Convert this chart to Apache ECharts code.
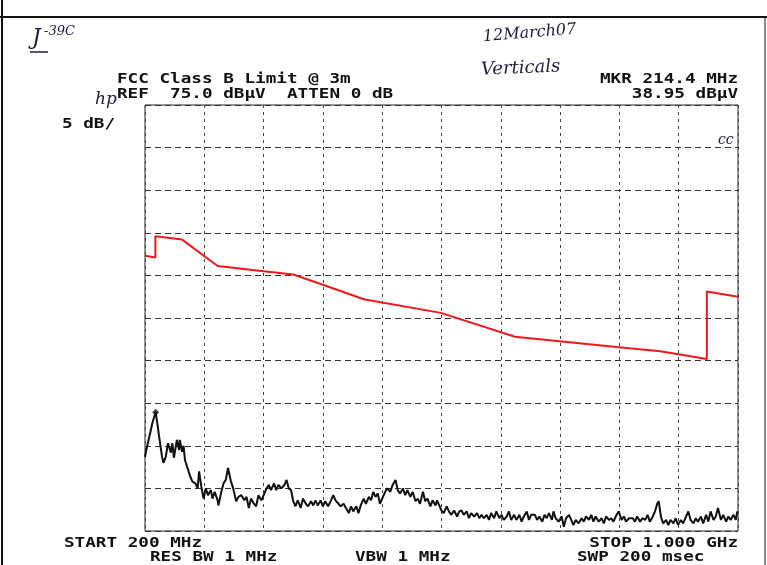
<!DOCTYPE html>
<html>
<head>
<meta charset="utf-8">
<script src="https://cdn.jsdelivr.net/npm/echarts@6/dist/echarts.min.js"></script>
<style>
  html, body { margin: 0; padding: 0; background: #fff; }
  #chart { width: 767px; height: 565px; }
</style>
</head>
<body>
<div id="chart"></div>
<script>
// sweep settings: 200 MHz .. 1 GHz, ref 75 dBuV, 5 dB/div
const spanMHz = [200, 1000]
const levelDb = [25, 75]

// FCC class B limit line (transducer-corrected), MHz / dBuV
const limitMHz = [200, 214, 214, 250, 298, 360, 400, 440, 495, 599, 699, 836, 895, 958, 958, 1000]
const limitDb = [57.3, 57.1, 59.6, 59.2, 56.1, 55.5, 55.1, 53.9, 52.2, 50.6, 47.8, 46.6, 46.1, 45.2, 53.1, 52.5]

const traceMHz = [
  200, 203, 207, 210, 214.4, 217, 219, 223, 225, 228, 231, 235, 237, 239, 243, 246, 247, 250, 252, 254,
  257, 261, 264, 268, 271, 273, 276, 279, 282, 285, 289, 291, 294, 298, 299, 303, 306, 309, 312, 316,
  319, 323, 326, 330, 334, 337, 340, 343, 347, 350, 353, 357, 361, 364, 367, 370, 374, 377, 380, 384,
  388, 391, 394, 397, 400, 403, 406, 410, 413, 417, 420, 424, 427, 430, 433, 437, 440, 443, 447, 451,
  454, 457, 461, 464, 468, 471, 475, 478, 481, 485, 488, 491, 495, 498, 502, 505, 508, 511, 514, 517,
  521, 524, 527, 531, 534, 538, 541, 544, 548, 551, 554, 558, 561, 565, 568, 571, 575, 578, 581, 585,
  588, 592, 594, 597, 600, 603, 607, 610, 613, 617, 621, 624, 627, 630, 634, 637, 640, 644, 648, 651,
  654, 657, 661, 664, 667, 671, 674, 678, 681, 684, 688, 691, 694, 698, 701, 705, 708, 711, 715, 718,
  721, 726, 729, 732, 736, 739, 742, 745, 749, 751, 754, 758, 762, 765, 768, 772, 775, 778, 781, 785,
  789, 792, 795, 799, 802, 805, 808, 812, 816, 819, 822, 826, 829, 832, 835, 839, 843, 846, 849, 853,
  858, 861, 864, 868, 871, 875, 878, 881, 885, 888, 891, 893, 896, 899, 903, 906, 909, 913, 916, 919,
  923, 926, 930, 933, 936, 940, 943, 946, 950, 953, 957, 960, 963, 967, 970, 973, 977, 980, 984, 987,
  990, 994, 997, 999
]
const traceDb = [
  33.7, 35.0, 36.5, 37.7, 38.95, 37.4, 36.1, 33.7, 33.0, 33.7, 35.3, 34.2, 35.3, 33.6, 35.7, 34.5, 35.7, 34.3, 35.0, 33.3,
  32.5, 31.4, 30.8, 30.6, 30.0, 32.0, 30.2, 28.8, 30.0, 29.2, 29.8, 28.8, 29.6, 28.6, 28.0, 29.6, 30.6, 31.0, 32.4, 30.8,
  30.0, 28.5, 29.0, 29.2, 28.6, 29.0, 27.7, 28.8, 28.2, 27.9, 29.2, 28.6, 29.4, 30.0, 30.4, 29.8, 30.6, 29.8, 30.4, 30.0,
  30.4, 31.0, 30.0, 29.8, 28.5, 27.9, 28.6, 27.7, 28.8, 28.2, 27.9, 28.5, 28.0, 28.6, 28.0, 28.6, 27.9, 28.5, 27.9, 28.6,
  29.2, 28.6, 28.2, 27.9, 28.2, 27.7, 27.1, 27.9, 27.3, 27.9, 27.1, 28.0, 28.8, 28.2, 29.0, 28.6, 29.6, 29.0, 29.4, 28.2,
  29.0, 29.6, 30.0, 29.6, 30.4, 31.0, 29.8, 29.4, 30.0, 29.2, 29.8, 29.0, 29.6, 28.5, 28.8, 28.2, 29.6, 28.5, 28.8, 27.9,
  28.6, 28.0, 28.6, 28.0, 27.4, 27.1, 27.9, 27.3, 26.9, 27.4, 26.7, 27.3, 27.4, 26.9, 27.3, 26.5, 27.1, 26.7, 27.1, 26.5,
  26.9, 26.5, 26.9, 26.3, 27.1, 26.5, 27.3, 26.5, 26.9, 26.3, 26.7, 27.3, 26.3, 26.9, 26.3, 26.9, 26.1, 26.7, 27.3, 26.3,
  26.9, 26.9, 26.3, 26.7, 26.1, 26.9, 26.5, 27.1, 26.3, 27.3, 26.5, 26.1, 26.7, 25.5, 26.5, 26.9, 26.3, 25.7, 26.3, 25.9,
  26.5, 26.1, 26.7, 26.3, 26.9, 26.1, 26.7, 26.1, 26.5, 25.9, 26.7, 26.3, 26.5, 26.1, 26.7, 27.3, 26.3, 26.7, 26.1, 26.5,
  26.5, 26.1, 26.7, 26.1, 26.5, 26.3, 26.9, 26.1, 26.7, 27.3, 28.2, 28.5, 26.7, 25.9, 26.3, 25.7, 26.3, 25.9, 26.5, 25.7,
  26.3, 25.9, 26.7, 27.3, 26.3, 25.9, 26.5, 26.1, 26.7, 25.9, 26.9, 26.1, 27.3, 26.3, 26.7, 27.7, 26.3, 26.9, 26.1, 26.7,
  26.3, 26.9, 26.3, 27.3
]

// marker readout
const markerMHz = 214.4
const markerDb = 38.95

const chart = echarts.init(document.getElementById('chart'))

const mono = 'DejaVu Sans Mono'
const hand = 'DejaVu Serif'

// printed instrument text, stretched to match the wide HP font
function printed(text, x, y, align) {
  return {
    type: 'text',
    x: x,
    y: y,
    scaleX: 1.26,
    style: {
      text: text,
      fill: '#111',
      font: 'bold 14px "' + mono + '"',
      align: align || 'left',
      verticalAlign: 'middle'
    }
  }
}

function scribble(text, x, y, size, rot) {
  return {
    type: 'text',
    x: x,
    y: y,
    rotation: rot || 0,
    style: {
      text: text,
      fill: '#1c1c3c',
      font: 'italic ' + size + 'px "' + hand + '"',
      verticalAlign: 'middle'
    }
  }
}

const option = {
  animation: false,
  backgroundColor: '#fff',
  grid: {
    left: 145,
    right: 29,
    top: 105,
    bottom: 34,
    show: true,
    borderColor: '#222',
    borderWidth: 1
  },
  xAxis: {
    type: 'value',
    min: spanMHz[0],
    max: spanMHz[1],
    interval: 80,
    axisLine: { show: false },
    axisTick: { show: false },
    axisLabel: { show: false },
    splitLine: { lineStyle: { color: '#444', type: [3, 4], width: 1 } }
  },
  yAxis: {
    type: 'value',
    min: levelDb[0],
    max: levelDb[1],
    interval: 5,
    axisLine: { show: false },
    axisTick: { show: false },
    axisLabel: { show: false },
    splitLine: { lineStyle: { color: '#333', type: [6, 4], width: 1 } }
  },
  series: [
    {
      name: 'limit',
      type: 'line',
      data: limitMHz.map((f, i) => [f, limitDb[i]]),
      symbol: 'none',
      lineStyle: { color: '#f01818', width: 2 },
      z: 3
    },
    {
      name: 'trace',
      type: 'line',
      data: traceMHz.map((f, i) => [f, traceDb[i]]),
      symbol: 'none',
      lineStyle: { color: '#111', width: 2 },
      z: 4
    },
    {
      name: 'marker',
      type: 'scatter',
      data: [[markerMHz, markerDb]],
      symbol: 'diamond',
      symbolSize: 7,
      itemStyle: { color: '#111' },
      z: 5
    }
  ],
  graphic: [
    // frame of the scanned sheet
    { type: 'line', shape: { x1: 0, y1: 17, x2: 767, y2: 17 }, style: { stroke: '#111', lineWidth: 2 } },
    { type: 'line', shape: { x1: 2, y1: 0, x2: 2, y2: 565 }, style: { stroke: '#111', lineWidth: 2 } },
    { type: 'line', shape: { x1: 765, y1: 17, x2: 765, y2: 565 }, style: { stroke: '#111', lineWidth: 1 } },

    printed('FCC Class B Limit @ 3m', 117, 79),
    printed('REF  75.0 dB\u00b5V  ATTEN 0 dB', 117, 94),
    printed('MKR 214.4 MHz', 738, 79, 'right'),
    printed('38.95 dB\u00b5V', 738, 94, 'right'),
    printed('5 dB/', 62, 124),
    printed('START 200 MHz', 64, 543),
    printed('STOP 1.000 GHz', 738, 543, 'right'),
    printed('RES BW 1 MHz', 150, 557),
    printed('VBW 1 MHz', 355, 557),
    printed('SWP 200 msec', 577, 557),

    scribble('hp', 95, 100, 17),
    scribble('J', 32, 38, 22),
    { type: 'line', shape: { x1: 30, y1: 52, x2: 48, y2: 52 }, style: { stroke: '#1c1c3c', lineWidth: 1.5 } },
    scribble('-39C', 44, 32, 13),
    scribble('12March07', 483, 37, 16, 0.08),
    scribble('Verticals', 481, 70, 18, 0.04),
    scribble('cc', 718, 140, 14)
  ]
}

chart.setOption(option)

window.addEventListener('resize', () => {
  chart && chart.resize()
})
</script>
</body>
</html>
